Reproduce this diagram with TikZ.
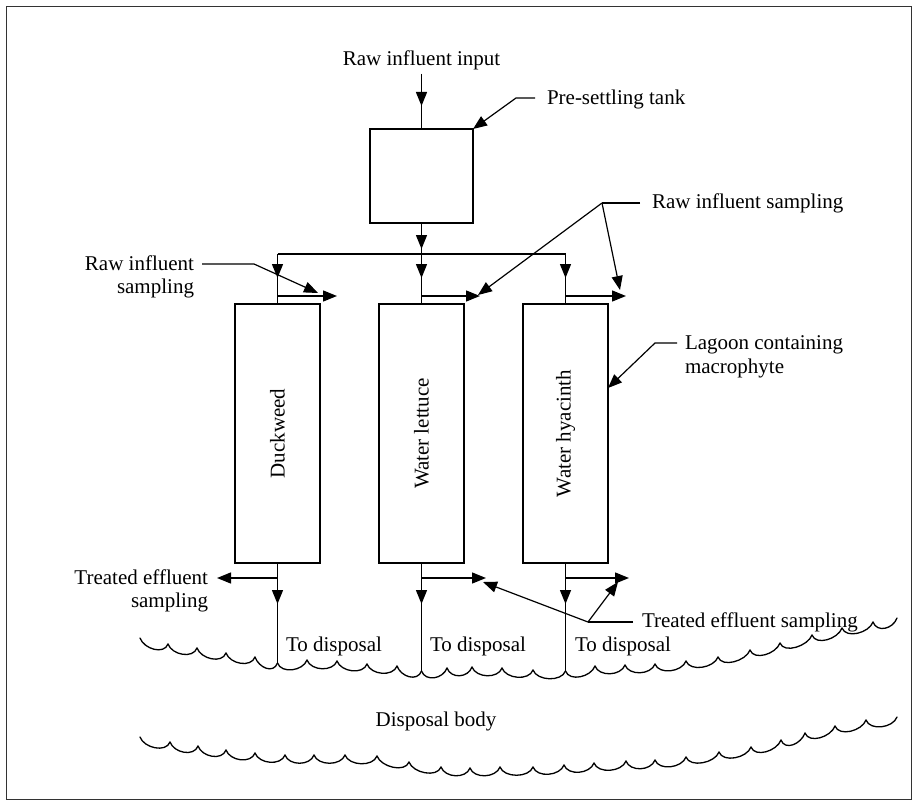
\documentclass[tikz,border=0pt]{standalone}
\usepackage{fontspec}
\setmainfont{Liberation Serif}
\usetikzlibrary{arrows.meta,calc}
\begin{document}
\begin{tikzpicture}[x=1pt,y=-1pt,
  every node/.style={inner sep=0pt,outer sep=0pt},
  lbl/.style={font=\fontsize{21}{23.5}\selectfont},
  tankbox/.style={draw,line width=1.2pt,minimum width=103pt,minimum height=94pt},
  lagoon/.style={draw,line width=1.2pt,minimum width=85pt,minimum height=259pt},
  pipe/.style={line width=1.4pt},
  flow/.style={line width=1.4pt,-{Triangle[length=14pt,width=11pt]}},
  lead/.style={line width=1.2pt},
  leadarrow/.style={line width=1.2pt,-{Triangle[length=14pt,width=11pt]}},
  wave/.style={line width=1.3pt,line cap=round},
]
\useasboundingbox (0,0) rectangle (917,805);
\draw[line width=0.8pt,black!80] (6,6) rectangle (911,799);

% tank and lagoons
\node[tankbox] (tank) at (421.5,176) {};
\node[lagoon] (dw) at (277.5,433.5) {};
\node[lagoon] (wl) at (421.5,433.5) {};
\node[lagoon] (wh) at (565.5,433.5) {};
\node[lbl,rotate=90] (dwl) at (dw) {Duckweed};
\node[lbl,rotate=90] (wll) at (wl) {Water lettuce};
\node[lbl,rotate=90] (whl) at (wh) {Water hyacinth};

% input
\node[lbl] (inlbl) at (421.5,60) {Raw influent input};
\coordinate (in) at (421.5,74);
\draw[pipe] (in) -- (tank.north);
\draw[flow] (in) -- (421.5,106);

% manifold
\coordinate (m1) at (277.5,254);
\coordinate (m2) at (421.5,254);
\coordinate (m3) at (565.5,254);
\draw[pipe] (m1) -- (m3);
\draw[pipe] (tank.south) -- (m2);
\draw[flow] (tank.south) -- (421.5,249);
\foreach \m/\b in {m1/dw,m2/wl,m3/wh}{
  \draw[pipe] (\m) -- (\b.north);
  \draw[flow] (\m) -- ($(\m)+(0,24)$);
}
% raw influent taps
\coordinate (t1) at (277.5,296);
\coordinate (t2) at (421.5,296);
\coordinate (t3) at (565.5,296);
\coordinate (ta1) at (337,296);
\coordinate (ta2) at (480,296);
\coordinate (ta3) at (626,296);
\draw[flow] (t1) -- (ta1);
\draw[flow] (t2) -- (ta2);
\draw[flow] (t3) -- (ta3);

% outlets
\coordinate (w1) at (277.5,663);
\coordinate (w2) at (421.5,671);
\coordinate (w3) at (565.5,671);
\foreach \b/\w in {dw/w1,wl/w2,wh/w3}{
  \draw[pipe] (\b.south) -- (\w);
  \draw[flow] (\b.south) -- ($(\b.south)+(0,41)$);
}
\coordinate (e1) at (277.5,578);
\coordinate (e2) at (421.5,578);
\coordinate (e3) at (565.5,578);
\coordinate (ea1) at (217,578);
\coordinate (ea2) at (486,578);
\coordinate (ea3) at (629,578);
\draw[flow] (e1) -- (ea1);
\draw[flow] (e2) -- (ea2);
\draw[flow] (e3) -- (ea3);

% labels and leaders
\node[lbl,anchor=west] (pst) at (547,99) {Pre-settling tank};
\draw[leadarrow] (535,98) -- (516,98) -- (tank.north east);

\node[lbl,anchor=east,align=right] (risl) at (194,277) {Raw influent\\sampling};
\coordinate (rl1) at (202,264);
\coordinate (rl2) at (254,264);
\coordinate (rlt) at (318,293);
\draw[leadarrow] (rl1) -- (rl2) -- (rlt);

\node[lbl,anchor=west] (risr) at (652,203) {Raw influent sampling};
\coordinate (rr1) at (640,203);
\coordinate (rr2) at (602,203);
\coordinate (rrt1) at (478,295);
\coordinate (rrt2) at (620,290);
\draw[lead] (rr1) -- (rr2);
\draw[leadarrow] (rr2) -- (rrt1);
\draw[leadarrow] (rr2) -- (rrt2);

\node[lbl,anchor=west,align=left] (lag) at (685,357) {Lagoon containing\\macrophyte};
\coordinate (lg1) at (677,343);
\coordinate (lg2) at (655,343);
\coordinate (lgt) at (608,388);
\draw[leadarrow] (lg1) -- (lg2) -- (lgt);

\node[lbl,anchor=east,align=right] (tesl) at (208,591) {Treated effluent\\sampling};

\node[lbl,anchor=west] (tesr) at (642,622) {Treated effluent sampling};
\coordinate (tr1) at (633,622);
\coordinate (tr2) at (588,622);
\coordinate (trt1) at (483,582);
\coordinate (trt2) at (618,582);
\draw[lead] (tr1) -- (tr2);
\draw[leadarrow] (tr2) -- (trt1);
\draw[leadarrow] (tr2) -- (trt2);

\node[lbl,anchor=west] (td1) at (286,646) {To disposal};
\node[lbl,anchor=west] (td2) at (430,646) {To disposal};
\node[lbl,anchor=west] (td3) at (575,646) {To disposal};
\node[lbl] (db) at (436,721) {Disposal body};

% upper water surface
\foreach \x/\y [remember=\x as \px (initially 140), remember=\y as \py (initially 638)] in
 {168/644,197/648,226/653,255/657,277.5/663,307/660,337/661,367/664,397/666,421.5/671,
  447/668,472/667,502/668,533/670,565.5/671,595/666,625/665,655/664,686/661,718/657,
  750/650,780/643,812/635,842/628,873/622,897/618}
  \draw[wave] (\px,\py) .. controls (\px+4,\py+11) and (\x-4,\y+11) .. (\x,\y);

% lower water surface
\foreach \x/\y [remember=\x as \px (initially 140), remember=\y as \py (initially 737)] in
 {170/742,198/746,226/750,255/753,285/755,314/755,345/755,377/756,409/762,441/767,
  470/768,500/767,533/767,564/765,594/763,626/761,655/760,686/757,719/752,751/747,
  781/740,805/733,835/726,866/720,897/717}
  \draw[wave] (\px,\py) .. controls (\px+4,\py+11) and (\x-4,\y+11) .. (\x,\y);
\end{tikzpicture}
\end{document}
